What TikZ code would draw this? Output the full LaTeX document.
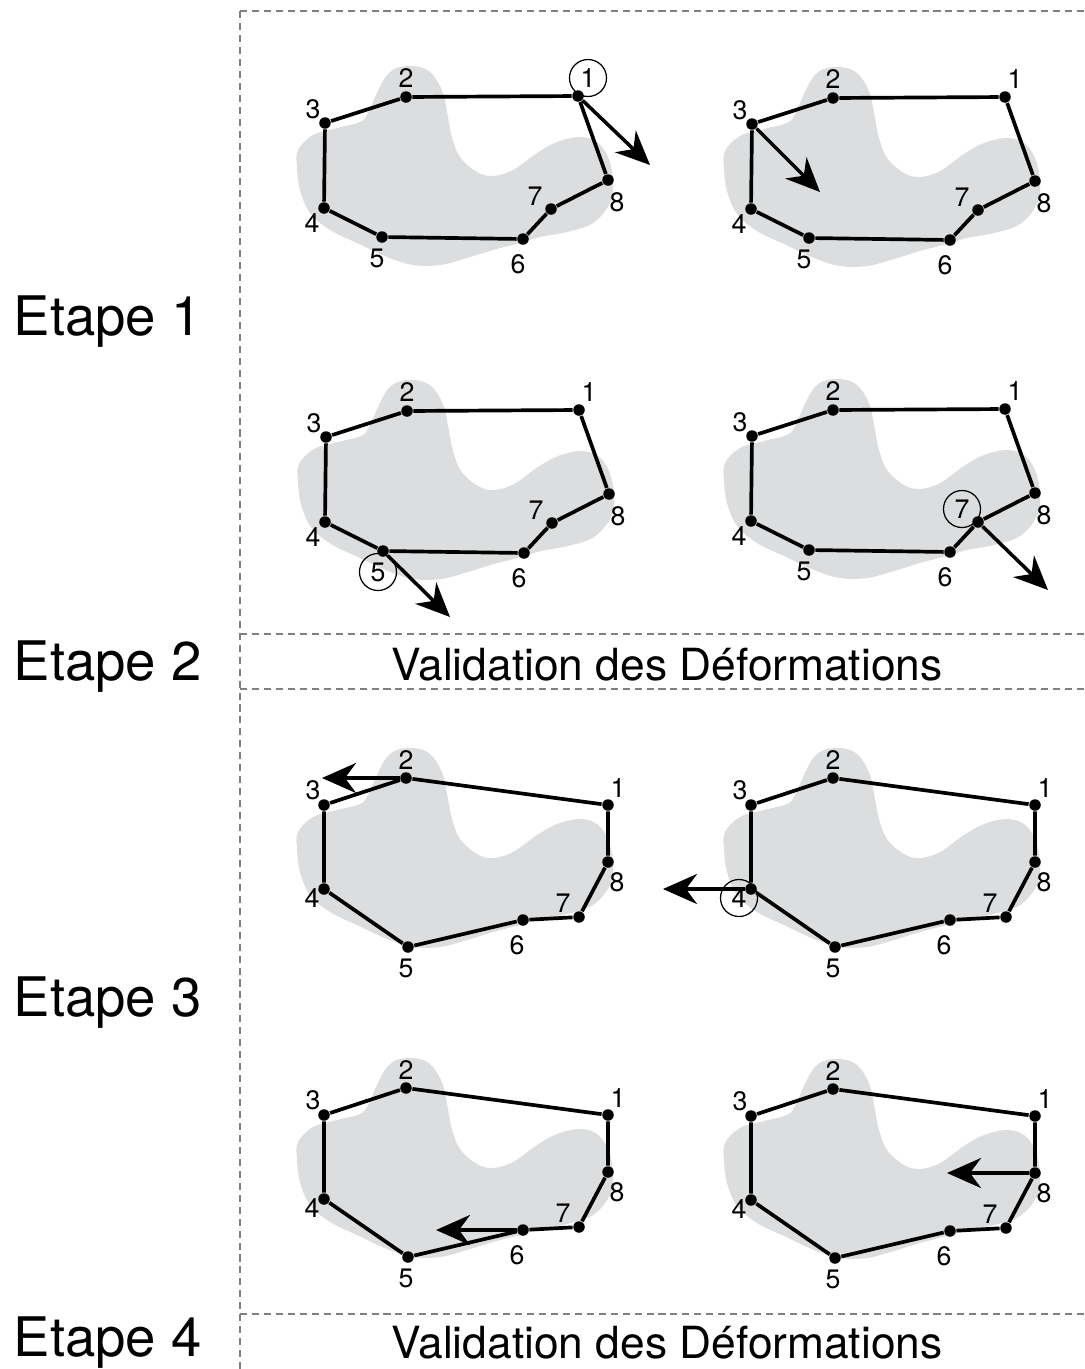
\documentclass[tikz,border=0pt]{standalone}
\usepackage{fontspec}
\setmainfont{TeX Gyre Heros}
\usepackage{tikz}
\usetikzlibrary{arrows.meta, calc}
\definecolor{blobgray}{HTML}{DCDDDE}

\tikzset{
	blob/.pic={
			\fill[blobgray] plot[smooth cycle, tension=0.6] coordinates {
					(298,150) (313,135) (337,128) (360,122) (368,113) (377,93)
					(387,75) (400,67) (420,67) (433,75) (443,93) (448,117)
					(452,137) (460,157) (477,172) (493,176) (513,170) (537,153)
					(557,142) (580,137) (597,142) (608,157) (613,180) (610,203)
					(593,223) (567,232) (540,237) (520,243) (493,250) (467,258)
					(440,265) (413,265) (387,257) (357,243) (330,230) (310,213)
					(300,190) (297,167)
				};
		}
}
\tikzset{
	dot/.style={circle, fill=black, inner sep=0pt, minimum size=0.115cm},
	contour/.style={line width=1.05pt, line join=round},
	smallnum/.style={font=\fontsize{7.6}{9}\selectfont, inner sep=0pt},
	ring/.style={line width=0.35pt},
	move/.style={line width=1pt, -{Stealth[length=0.34cm, width=0.3cm, inset=0.11cm]}},
	sep/.style={gray, line width=0.3pt, dash pattern=on 2pt off 1.4pt},
	bigtext/.style={font=\fontsize{15.5}{18}\selectfont, anchor=base west, inner sep=0pt},
	midtext/.style={font=\fontsize{12.6}{15}\selectfont, anchor=base, inner sep=0pt}
}
\tikzset{
	stepone/.pic={
			\pic {blob};
			\node[dot] (-p1) at (578,96) {};
			\node[dot] (-p2) at (406,97) {};
			\node[dot] (-p3) at (325,123) {};
			\node[dot] (-p4) at (324,208) {};
			\node[dot] (-p5) at (382,237) {};
			\node[dot] (-p6) at (523,239) {};
			\node[dot] (-p7) at (551,209) {};
			\node[dot] (-p8) at (608,180) {};
			\draw[contour] (-p1) -- (-p2) -- (-p3) -- (-p4) -- (-p5) -- (-p6) -- (-p7) -- (-p8) -- (-p1);
			\node[smallnum] (-l1) at (588,78) {1};
			\node[smallnum] (-l2) at (406,78) {2};
			\node[smallnum] (-l3) at (313,109) {3};
			\node[smallnum] (-l4) at (312,223) {4};
			\node[smallnum] (-l5) at (377,258) {5};
			\node[smallnum] (-l6) at (518,264) {6};
			\node[smallnum] (-l7) at (535,196) {7};
			\node[smallnum] (-l8) at (617,202) {8};
		}
}
\tikzset{
	stepthree/.pic={
			\pic {blob};
			\node[dot] (-p1) at (608,123) {};
			\node[dot] (-p2) at (406,96) {};
			\node[dot] (-p3) at (324,123) {};
			\node[dot] (-p4) at (324,207) {};
			\node[dot] (-p5) at (408,265) {};
			\node[dot] (-p6) at (523,238) {};
			\node[dot] (-p7) at (579,235) {};
			\node[dot] (-p8) at (608,180) {};
			\draw[contour] (-p1) -- (-p2) -- (-p3) -- (-p4) -- (-p5) -- (-p6) -- (-p7) -- (-p8) -- (-p1);
			\node[smallnum] (-l1) at (618,106) {1};
			\node[smallnum] (-l2) at (406,78) {2};
			\node[smallnum] (-l3) at (313,108) {3};
			\node[smallnum] (-l4) at (312,216) {4};
			\node[smallnum] (-l5) at (406,286) {5};
			\node[smallnum] (-l6) at (517,263) {6};
			\node[smallnum] (-l7) at (563,221) {7};
			\node[smallnum] (-l8) at (617,200) {8};
		}
}

\begin{document}
\begin{tikzpicture}[x=0.01cm, y=-0.01cm]

	\useasboundingbox (0,0) rectangle (1085,1369);

	% separateurs
	\draw[sep] (240,11) -- (1085,11);
	\draw[sep] (240,11) -- (240,1369);
	\draw[sep] (240,634) -- (1085,634);
	\draw[sep] (240,689) -- (1085,689);
	\draw[sep] (240,1314) -- (1085,1314);

	% etape 1
	\begin{scope}
		\pic (a) {stepone};
		\coordinate (a-tip) at (650,165);
		\draw[move] (a-p1) -- (a-tip);
		\draw[ring] (a-l1) circle[radius=0.185cm];
	\end{scope}

	\begin{scope}[shift={(427,1)}]
		\pic (b) {stepone};
		\coordinate (b-tip) at (393,191);
		\draw[move] (b-p3) -- (b-tip);
	\end{scope}

	\begin{scope}[shift={(1,314)}]
		\pic (c) {stepone};
		\coordinate (c-tip) at (449,303);
		\draw[move] (c-p5) -- (c-tip);
		\draw[ring] (c-l5) circle[radius=0.185cm];
	\end{scope}

	\begin{scope}[shift={(427,313)}]
		\pic (d) {stepone};
		\coordinate (d-tip) at (621,277);
		\draw[move] (d-p7) -- (d-tip);
		\draw[ring] (d-l7) circle[radius=0.185cm];
	\end{scope}

	% etape 3
	\begin{scope}[shift={(0,682)}]
		\pic (e) {stepthree};
		\coordinate (e-tip) at (322,96);
		\draw[move] (e-p2) -- (e-tip);
	\end{scope}

	\begin{scope}[shift={(427,682)}]
		\pic (f) {stepthree};
		\coordinate (f-tip) at (236,207);
		\draw[move] (f-p4) -- (f-tip);
		\draw[ring] (f-l4) circle[radius=0.185cm];
	\end{scope}

	\begin{scope}[shift={(0,992)}]
		\pic (g) {stepthree};
		\coordinate (g-tip) at (436,238);
		\draw[move] (g-p6) -- (g-tip);
	\end{scope}

	\begin{scope}[shift={(427,993)}]
		\pic (h) {stepthree};
		\coordinate (h-tip) at (520,180);
		\draw[move] (h-p8) -- (h-tip);
	\end{scope}

	\node[bigtext] (et1) at (13,335) {Etape 1};
	\node[bigtext] (et2) at (13,680) {Etape 2};
	\node[bigtext] (et3) at (13,1016) {Etape 3};
	\node[bigtext] (et4) at (13,1356) {Etape 4};

	\node[midtext] (val1) at (667,680) {Validation des Déformations};
	\node[midtext] (val2) at (667,1358) {Validation des Déformations};

\end{tikzpicture}
\end{document}
